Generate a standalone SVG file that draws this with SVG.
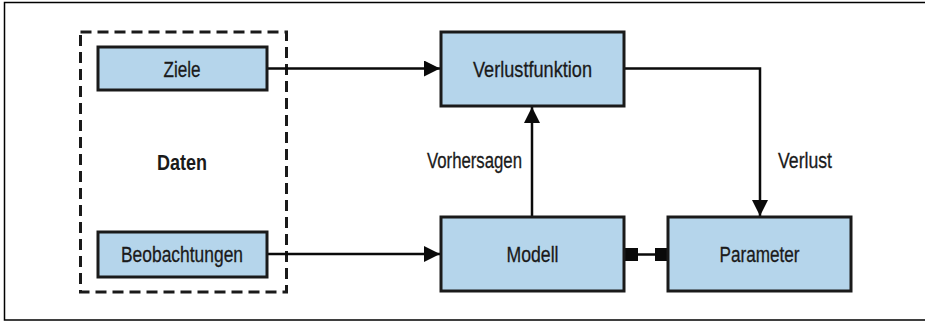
<svg xmlns="http://www.w3.org/2000/svg" width="925" height="322" viewBox="0 0 925 322">
<defs>
<style>
.box{fill:#b5d5eb;stroke:#1a1a1a;stroke-width:3}
.lbl{font-family:"Liberation Sans",Arial,sans-serif;font-size:22px;fill:#1a1a1a;stroke:#1a1a1a;stroke-width:0.3}
.bold{font-weight:bold;stroke-width:0}
.conn{fill:none;stroke:#0a0a0a;stroke-width:2.5}
</style>
<marker id="arr" viewBox="0 0 10 10" refX="10" refY="5" markerWidth="17" markerHeight="16" markerUnits="userSpaceOnUse" orient="auto">
<path d="M0,0 L10,5 L0,10 Z" fill="#0a0a0a"/>
</marker>
</defs>
<rect width="925" height="322" fill="#fff"/>
<path d="M925,2.5 H4.5 V320 H925" fill="none" stroke="#000" stroke-width="1.5"/>
<g id="daten">
<rect x="80.5" y="32" width="206" height="260" fill="none" stroke="#1a1a1a" stroke-width="3" stroke-dasharray="11,6"/>
<text class="lbl bold" x="182" y="170" text-anchor="middle" textLength="50" lengthAdjust="spacingAndGlyphs">Daten</text>
</g>
<g id="connectors">
<line class="conn" x1="267" y1="68.5" x2="440" y2="68.5" marker-end="url(#arr)"/>
<line class="conn" x1="267" y1="254" x2="440" y2="254" marker-end="url(#arr)"/>
<line class="conn" x1="532" y1="217" x2="532" y2="107" marker-end="url(#arr)"/>
<polyline class="conn" points="624,68.5 760,68.5 760,216" marker-end="url(#arr)"/>
<line class="conn" x1="630" y1="254.5" x2="662" y2="254.5"/>
<rect x="624" y="248" width="14" height="13" fill="#0a0a0a"/>
<rect x="655" y="248" width="14" height="13" fill="#0a0a0a"/>
<text class="lbl" x="522" y="168" text-anchor="end" textLength="95" lengthAdjust="spacingAndGlyphs">Vorhersagen</text>
<text class="lbl" x="778" y="168" textLength="54" lengthAdjust="spacingAndGlyphs">Verlust</text>
</g>
<g id="ziele">
<rect class="box" x="98" y="47" width="169" height="43"/>
<text class="lbl" x="182" y="77" text-anchor="middle" textLength="37" lengthAdjust="spacingAndGlyphs">Ziele</text>
</g>
<g id="beobachtungen">
<rect class="box" x="98" y="232" width="169" height="45"/>
<text class="lbl" x="182" y="262" text-anchor="middle" textLength="122" lengthAdjust="spacingAndGlyphs">Beobachtungen</text>
</g>
<g id="verlustfunktion">
<rect class="box" x="441" y="32" width="183" height="74"/>
<text class="lbl" x="532.5" y="77" text-anchor="middle" textLength="119" lengthAdjust="spacingAndGlyphs">Verlustfunktion</text>
</g>
<g id="modell">
<rect class="box" x="441" y="217" width="183" height="74"/>
<text class="lbl" x="532.5" y="262" text-anchor="middle" textLength="52" lengthAdjust="spacingAndGlyphs">Modell</text>
</g>
<g id="parameter">
<rect class="box" x="668" y="217" width="183" height="74"/>
<text class="lbl" x="759.5" y="262" text-anchor="middle" textLength="80" lengthAdjust="spacingAndGlyphs">Parameter</text>
</g>
</svg>
